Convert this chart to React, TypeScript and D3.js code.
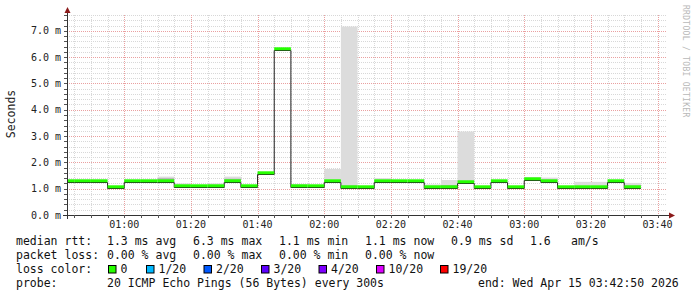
import React from "react";
import * as d3 from "d3";

// ---- data (5-minute steps, start time of each step) ----
const times = [
  "00:40", "00:45", "00:50", "00:55", "01:00", "01:05", "01:10", "01:15", "01:20", "01:25",
  "01:30", "01:35", "01:40", "01:45", "01:50", "01:55", "02:00", "02:05", "02:10", "02:15",
  "02:20", "02:25", "02:30", "02:35", "02:40", "02:45", "02:50", "02:55", "03:00", "03:05",
  "03:10", "03:15", "03:20", "03:25", "03:30",
];
// median rtt in ms
const median = [
  1.28, 1.28, 1.31, 1.08, 1.3, 1.3, 1.3, 1.1, 1.09, 1.11,
  1.3, 1.1, 1.61, 6.32, 1.09, 1.09, 1.28, 1.08, 1.08, 1.3,
  1.3, 1.29, 1.08, 1.08, 1.27, 1.08, 1.3, 1.08, 1.36, 1.3,
  1.07, 1.07, 1.07, 1.3, 1.08,
];
// smoke upper bound (light grey)
const smokeHi = [
  1.34, 1.34, 1.34, 1.1, 1.32, 1.34, 1.46, 1.2, 1.12, 1.2,
  1.46, 1.12, 1.63, 6.34, 1.18, 1.12, 1.75, 7.16, 1.1, 1.4,
  1.32, 1.32, 1.16, 1.33, 3.17, 1.1, 1.33, 1.1, 1.44, 1.42,
  1.1, 1.26, 1.26, 1.32, 1.22,
];
// denser smoke (darker grey)
const smokeMid = [
  1.3, 1.3, 1.32, 1.09, 1.31, 1.32, 1.4, 1.14, 1.1, 1.14,
  1.38, 1.1, 1.62, 6.33, 1.12, 1.1, 1.3, 1.12, 1.09, 1.33,
  1.31, 1.3, 1.1, 1.14, 1.3, 1.09, 1.31, 1.09, 1.39, 1.34,
  1.08, 1.1, 1.1, 1.31, 1.12,
];
const yTicks = [0, 1, 2, 3, 4, 5, 6, 7];
const xTickLabels = ["01:00", "01:20", "01:40", "02:00", "02:20", "02:40", "03:00", "03:20", "03:40"];
const lossLabels = ["0", "1/20", "2/20", "3/20", "4/20", "10/20", "19/20"];
const lossColors = ["#26ff00", "#00b8ff", "#0059ff", "#5e00ff", "#7e00ff", "#dd00ff", "#ff0000"];
const rttStats = ["1.3 ms avg", "6.3 ms max", "1.1 ms min", "1.1 ms now", "0.9 ms sd"];
const rttExtra = ["1.6", "am/s"];
const lossStats = ["0.00 % avg", "0.00 % max", "0.00 % min", "0.00 % now"];
const probeText = "20 ICMP Echo Pings (56 Bytes) every 300s";
const endText = "end: Wed Apr 15 03:42:50 2026";
const startTime = "00:42:50";
const endTime = "03:42:50";

const FONT = "'DejaVu Sans Mono', monospace";

export default function App() {
  const parse = d3.timeParse("%H:%M");
  const parseS = d3.timeParse("%H:%M:%S");
  const t0 = parseS(startTime)!;
  const t1 = parseS(endTime)!;
  const x = d3.scaleTime().domain([t0, t1]).range([67, 667]);
  const y = d3.scaleLinear().domain([0, 7.6]).range([215, 15]);

  const starts = times.map((s) => parse(s)!);
  const segs = starts.map((s, i) => {
    const e = d3.timeMinute.offset(s, 5);
    const xs = x(s < t0 ? t0 : s);
    const xe = x(e);
    return { xs, xe, m: median[i], hi: smokeHi[i], mid: smokeMid[i] };
  });

  // grid
  const minorTimes = d3.timeMinute.every(5)!.range(t0, d3.timeSecond.offset(t1, 1));
  const majorTimes = xTickLabels.map((s) => parse(s)!);
  const minorY = d3.range(0.2, 7.61, 0.2).filter((v) => Math.abs(v - Math.round(v)) > 0.01);

  const lineData: [Date, number][] = starts.map((s, i) => [s < t0 ? t0 : s, median[i]]);
  lineData.push([d3.timeMinute.offset(starts[starts.length - 1], 5), median[median.length - 1]]);
  const line = d3
    .line<[Date, number]>()
    .x((d) => x(d[0]))
    .y((d) => Math.round(y(d[1])) + 1.5)
    .curve(d3.curveStepAfter);

  // legend box positions
  let acc = 108;
  const lossPos = lossLabels.map((l) => {
    const p = acc;
    acc += 31.5 + 6.5 * l.length;
    return p;
  });

  const rows = [245, 259, 273, 287];

  return (
    <svg
      width={697}
      height={297}
      style={{ position: "absolute", left: 0, top: 0, background: "#fff" }}
      fontFamily={FONT}
    >
      <rect x={0} y={0} width={697} height={297} fill="#fff" />
      {/* minor grid */}
      {minorTimes.map((t, i) => (
        <line key={"vx" + i} x1={Math.round(x(t)) + 0.5} x2={Math.round(x(t)) + 0.5} y1={15} y2={215}
          stroke="#d8d8d8" strokeDasharray="1,1" />
      ))}
      {minorY.map((v, i) => (
        <line key={"hy" + i} x1={67} x2={667} y1={Math.round(y(v)) + 0.5} y2={Math.round(y(v)) + 0.5}
          stroke="#d8d8d8" strokeDasharray="1,1" />
      ))}
      {/* major grid */}
      {majorTimes.map((t, i) => (
        <line key={"mx" + i} x1={Math.round(x(t)) + 0.5} x2={Math.round(x(t)) + 0.5} y1={15} y2={215}
          stroke="#eaa0a0" strokeDasharray="1,1" />
      ))}
      {yTicks.slice(1).map((v, i) => (
        <line key={"my" + i} x1={67} x2={667} y1={Math.round(y(v)) + 0.5} y2={Math.round(y(v)) + 0.5}
          stroke="#eaa0a0" strokeDasharray="1,1" />
      ))}

      {/* smoke */}
      {segs.map((s, i) => (
        <rect key={"sl" + i} x={s.xs} width={s.xe - s.xs} y={y(s.hi)} height={Math.max(0, y(s.m) - y(s.hi))}
          fill="#dcdcdc" />
      ))}
      {segs.map((s, i) => (
        <rect key={"sm" + i} x={s.xs} width={s.xe - s.xs} y={y(s.mid)} height={Math.max(0, y(s.m) - y(s.mid))}
          fill="#b4b4b4" />
      ))}

      {/* median black line */}
      <path d={line(lineData) || ""} fill="none" stroke="#202020" strokeWidth={1} />
      {/* loss colour band */}
      {segs.map((s, i) => (
        <rect key={"g" + i} x={s.xs} width={s.xe - s.xs} y={Math.round(y(s.m)) - 1.7} height={3}
          fill={lossColors[0]} />
      ))}

      {/* axes */}
      <line x1={67.5} x2={67.5} y1={13} y2={219} stroke="#333" />
      <line x1={63} x2={670} y1={215.5} y2={215.5} stroke="#333" />
      <path d="M64.5,13 L70.5,13 L67.5,7 Z" fill="#8b1a1a" />
      <path d="M669,212.5 L669,218.5 L675,215.5 Z" fill="#8b1a1a" />
      {minorTimes.map((t, i) => (
        <line key={"tx" + i} x1={Math.round(x(t)) + 0.5} x2={Math.round(x(t)) + 0.5} y1={215} y2={218} stroke="#555" />
      ))}
      {minorY.concat(yTicks.slice(1)).map((v, i) => (
        <line key={"ty" + i} x1={64} x2={67} y1={Math.round(y(v)) + 0.5} y2={Math.round(y(v)) + 0.5} stroke="#555" />
      ))}

      {/* tick labels */}
      {yTicks.map((v) => (
        <text key={"yl" + v} x={61} y={y(v) + 3.5} fontSize={10} textAnchor="end" fill="#222">
          {v.toFixed(1) + " m"}
        </text>
      ))}
      {majorTimes.map((t, i) => (
        <text key={"xl" + i} x={x(t)} y={228} fontSize={10} textAnchor="middle" fill="#222">
          {xTickLabels[i]}
        </text>
      ))}
      <text transform="translate(15,114) rotate(-90)" fontSize={11.5} textAnchor="middle" fill="#222">
        Seconds
      </text>
      <text transform="translate(683,5) rotate(90)" fontSize={8} fill="#b8b8b8" letterSpacing={0.3}>
        RRDTOOL / TOBI OETIKER
      </text>

      {/* legend */}
      <g fontSize={11.5} fill="#111" style={{ whiteSpace: "pre" }}>
        <text x={16} y={rows[0]}>median rtt:</text>
        {rttStats.map((s, i) => (
          <text key={"r" + i} x={107 + i * 86} y={rows[0]}>{s}</text>
        ))}
        <text x={530} y={rows[0]}>{rttExtra[0]}</text>
        <text x={571} y={rows[0]}>{rttExtra[1]}</text>

        <text x={16} y={rows[1]}>packet loss:</text>
        {lossStats.map((s, i) => (
          <text key={"l" + i} x={107 + i * 86} y={rows[1]}>{s}</text>
        ))}

        <text x={16} y={rows[2]}>loss color:</text>
        {lossLabels.map((l, i) => (
          <g key={"lc" + i}>
            <rect x={lossPos[i] + 0.5} y={rows[2] - 7.5} width={7.5} height={7.5} fill={lossColors[i]} stroke="#000" strokeWidth={1} />
            <text x={lossPos[i] + 12.5} y={rows[2]}>{l}</text>
          </g>
        ))}

        <text x={16} y={rows[3]}>probe:</text>
        <text x={107} y={rows[3]}>{probeText}</text>
        <text x={478} y={rows[3]}>{endText}</text>
      </g>
    </svg>
  );
}
